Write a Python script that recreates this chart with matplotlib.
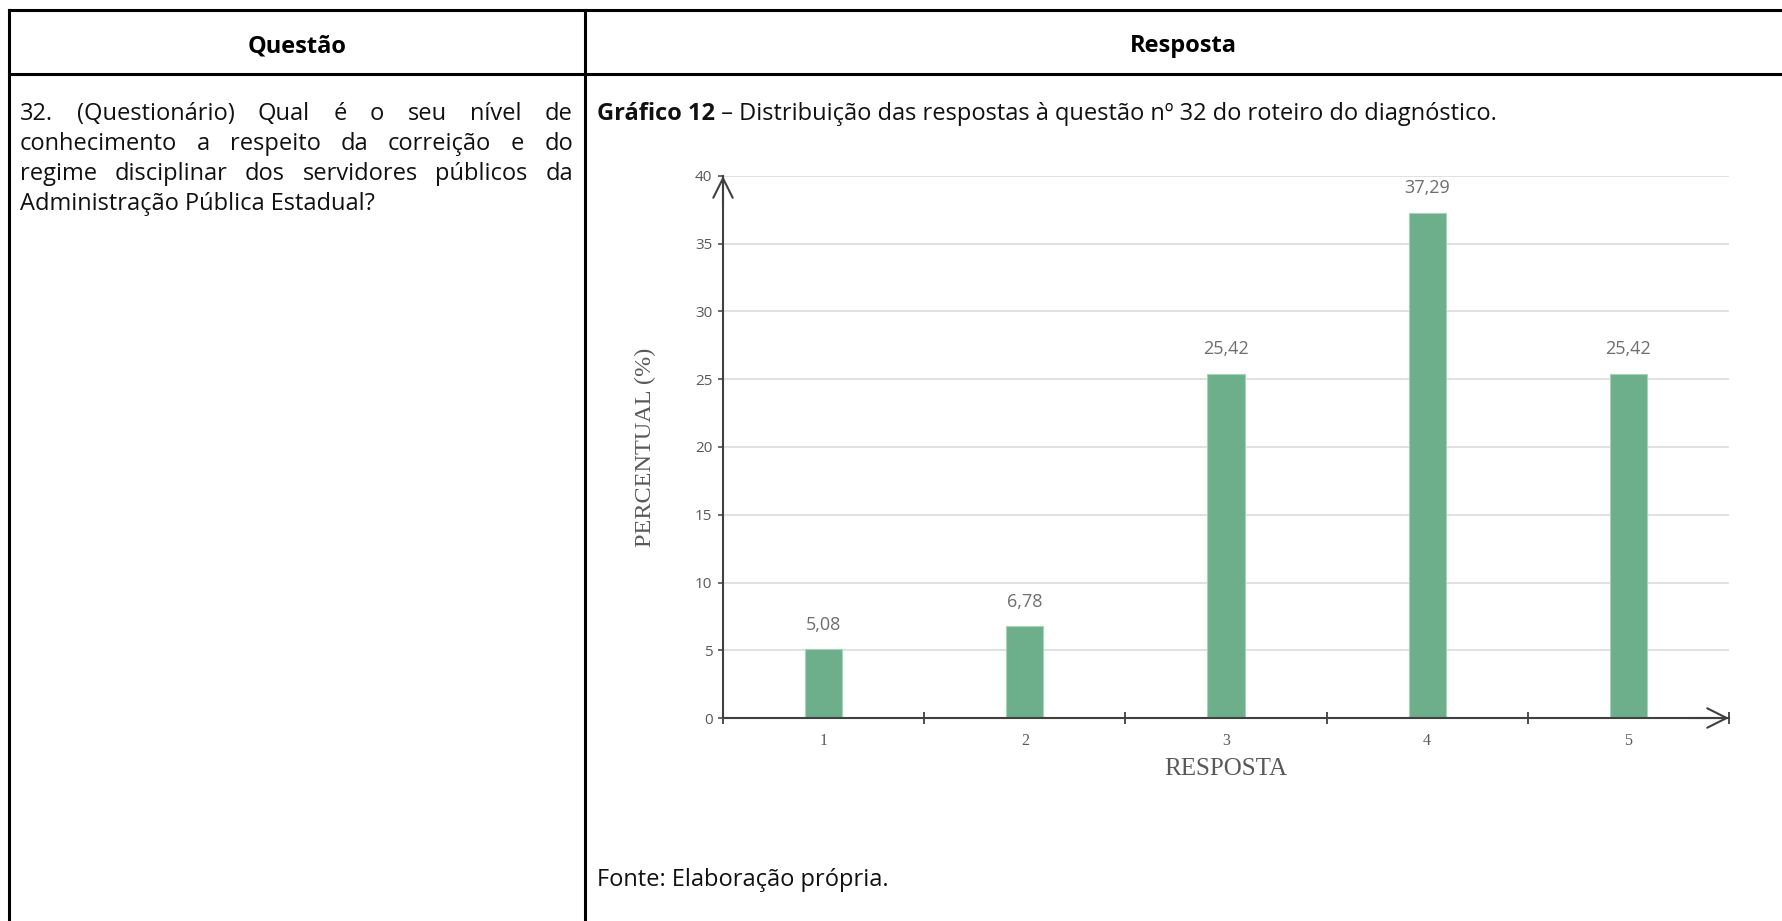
import matplotlib
matplotlib.use("Agg")
import matplotlib.pyplot as plt
from matplotlib.lines import Line2D

# ---- data -------------------------------------------------------------
respostas = ["1", "2", "3", "4", "5"]
percentuais = [5.08, 6.78, 25.42, 37.29, 25.42]
y_ticks = [0, 5, 10, 15, 20, 25, 30, 35, 40]

titulo_questao = "Questão"
titulo_resposta = "Resposta"
questao_linhas = [
    "32. (Questionário) Qual é o seu nível de",
    "conhecimento a respeito da correição e do",
    "regime disciplinar dos servidores públicos da",
    "Administração Pública Estadual?",
]
legenda_negrito = "Gráfico 12"
legenda_texto = " – Distribuição das respostas à questão nº 32 do roteiro do diagnóstico."
fonte_texto = "Fonte: Elaboração própria."
rotulo_x = "RESPOSTA"
rotulo_y = "PERCENTUAL (%)"

# ---- page geometry (pixels) -------------------------------------------
W, H, DPI = 1782, 921, 100
SANS = "Open Sans"
SERIF = "Liberation Serif"
BODY_SIZE = 17
GRAY = "#595959"
LABEL_GRAY = "#6e6e6e"
AXIS = "#404040"
BAR = "#6daf8a"


def fx(px):
    return px / W


def fy(py):
    return 1 - py / H


fig = plt.figure(figsize=(W / DPI, H / DPI), dpi=DPI)
fig.patch.set_facecolor("white")
renderer = fig.canvas.get_renderer()

# ---- table frame ------------------------------------------------------
lw_table = 2.2
left_x, div_x, right_x = 9, 585, 1790
top_y, head_y, bottom_y = 10.5, 74, 930
for xs, ys in [
    ([left_x, right_x], [top_y, top_y]),
    ([left_x, right_x], [head_y, head_y]),
    ([left_x, left_x], [top_y, bottom_y]),
    ([div_x, div_x], [top_y, bottom_y]),
]:
    fig.add_artist(Line2D([fx(x) for x in xs], [fy(y) for y in ys],
                          transform=fig.transFigure, color="black",
                          lw=lw_table, solid_capstyle="projecting"))

fig.text(fx((left_x + div_x) / 2), fy(46), titulo_questao, ha="center",
         va="center", family=SANS, weight="bold", fontsize=BODY_SIZE)
fig.text(fx((div_x + 1782) / 2), fy(46), titulo_resposta, ha="center",
         va="center", family=SANS, weight="bold", fontsize=BODY_SIZE)


def text_width(s, **kw):
    t = fig.text(0, 0, s, **kw)
    w = t.get_window_extent(renderer).width
    t.remove()
    return w


# ---- justified question text -----------------------------------------
x0, x1 = 20, 573
base0, line_gap = 120, 30
for i, linha in enumerate(questao_linhas):
    yb = base0 + i * line_gap
    palavras = linha.split(" ")
    kw = dict(family=SANS, fontsize=BODY_SIZE, color="#111111")
    if i == len(questao_linhas) - 1:
        fig.text(fx(x0), fy(yb), linha, ha="left", va="baseline", **kw)
        continue
    larguras = [text_width(p, **kw) for p in palavras]
    gap = (x1 - x0 - sum(larguras)) / (len(palavras) - 1)
    x = x0
    for p, w in zip(palavras, larguras):
        fig.text(fx(x), fy(yb), p, ha="left", va="baseline", **kw)
        x += w + gap

# ---- caption and source ----------------------------------------------
cx = 597
kw_b = dict(family=SANS, fontsize=BODY_SIZE, weight="bold", color="#111111")
kw_r = dict(family=SANS, fontsize=BODY_SIZE, color="#111111")
fig.text(fx(cx), fy(base0), legenda_negrito, ha="left", va="baseline", **kw_b)
wb = text_width(legenda_negrito, **kw_b)
fig.text(fx(cx + wb), fy(base0), legenda_texto, ha="left", va="baseline", **kw_r)
fig.text(fx(cx), fy(886), fonte_texto, ha="left", va="baseline", **kw_r)

# ---- bar chart --------------------------------------------------------
ax_l, ax_r, ax_t, ax_b = 723, 1729, 176, 718
ax = fig.add_axes([fx(ax_l), fy(ax_b), (ax_r - ax_l) / W, (ax_b - ax_t) / H])
ax.set_facecolor("none")
pos = list(range(1, len(respostas) + 1))
ax.bar(pos, percentuais, width=0.185, color=BAR, edgecolor="#a6d4b8",
       linewidth=0.8, zorder=2)
for x, v in zip(pos, percentuais):
    ax.annotate(f"{v:.2f}".replace(".", ","), xy=(x, v), xytext=(0, 17.5),
                textcoords="offset points", ha="center", va="center",
                family=SANS, fontsize=13, color=LABEL_GRAY)

ax.set_xlim(0.5, len(respostas) + 0.5)
ax.set_ylim(0, 40)
ax.set_yticks(y_ticks)
ax.set_yticklabels([str(t) for t in y_ticks], family=SANS, fontsize=11,
                   color=GRAY)
ax.set_xticks(pos)
ax.set_xticklabels(respostas, family=SERIF, fontsize=11.5, color=GRAY)
ax.set_xticks([p - 0.5 for p in pos] + [pos[-1] + 0.5], minor=True)
ax.tick_params(axis="x", which="major", length=0, pad=11)
ax.tick_params(axis="x", which="minor", direction="inout", length=8,
               width=1.3, color=AXIS)
ax.tick_params(axis="y", direction="out", length=3.6, width=1.1, color=AXIS,
               pad=4)
ax.yaxis.grid(True, color="#d9d9d9", lw=1.1, zorder=0)
ax.set_axisbelow(True)
for s in ("top", "right"):
    ax.spines[s].set_visible(False)
for s in ("left", "bottom"):
    ax.spines[s].set_color(AXIS)
    ax.spines[s].set_linewidth(1.5)
    ax.spines[s].set_zorder(3)

arrow = dict(arrowstyle="->,head_length=0.7,head_width=0.35", color=AXIS,
             lw=1.5, mutation_scale=20, shrinkA=0, shrinkB=0)
ax.annotate("", xy=(1.0, 0), xycoords="axes fraction", xytext=(0.96, 0),
            arrowprops=arrow, annotation_clip=False)
ax.annotate("", xy=(0, 1.0), xycoords="axes fraction", xytext=(0, 0.95),
            arrowprops=arrow, annotation_clip=False)

ax.set_xlabel(rotulo_x, family=SERIF, fontsize=18, color=GRAY)
ax.xaxis.set_label_coords(0.5, (ax_b - 769) / (ax_b - ax_t))
ax.xaxis.label.set_va("center")
ax.set_ylabel(rotulo_y, family=SERIF, fontsize=17.5, color=GRAY)
ax.yaxis.set_label_coords((645 - ax_l) / (ax_r - ax_l), 0.5)
ax.yaxis.label.set_va("center")

fig.savefig("out.png", dpi=DPI, facecolor="white")
